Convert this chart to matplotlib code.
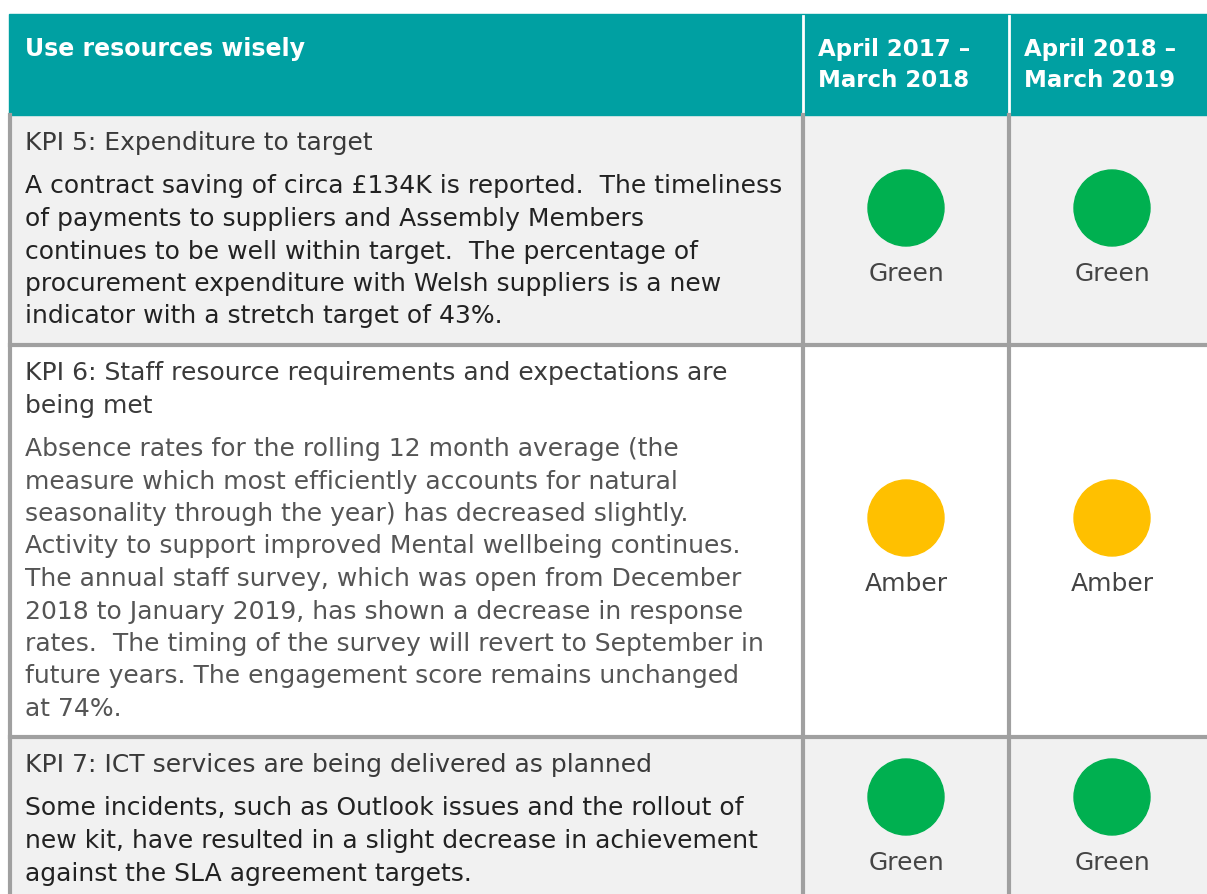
import matplotlib.pyplot as plt
from matplotlib.patches import Rectangle, Circle

# table content
header = "Use resources wisely"
periods = ["April 2017 –\nMarch 2018", "April 2018 –\nMarch 2019"]
titles = [
    ["KPI 5: Expenditure to target"],
    ["KPI 6: Staff resource requirements and expectations are",
     "being met"],
    ["KPI 7: ICT services are being delivered as planned"],
]
bodies = [
    ["A contract saving of circa £134K is reported.  The timeliness",
     "of payments to suppliers and Assembly Members",
     "continues to be well within target.  The percentage of",
     "procurement expenditure with Welsh suppliers is a new",
     "indicator with a stretch target of 43%."],
    ["Absence rates for the rolling 12 month average (the",
     "measure which most efficiently accounts for natural",
     "seasonality through the year) has decreased slightly.",
     "Activity to support improved Mental wellbeing continues.",
     "The annual staff survey, which was open from December",
     "2018 to January 2019, has shown a decrease in response",
     "rates.  The timing of the survey will revert to September in",
     "future years. The engagement score remains unchanged",
     "at 74%."],
    ["Some incidents, such as Outlook issues and the rollout of",
     "new kit, have resulted in a slight decrease in achievement",
     "against the SLA agreement targets."],
]
status_2017 = ["Green", "Amber", "Green"]
status_2018 = ["Green", "Amber", "Green"]

rag = {"Green": "#00b050", "Amber": "#ffc000"}
row_bg = ["#f1f1f1", "#ffffff", "#f1f1f1"]
body_col = ["#222222", "#555555", "#222222"]
teal = "#00a0a2"
grid = "#a0a0a0"

W, H = 1207, 894
row_top = [115, 345, 737]
row_bot = [345, 737, 894]
col_x = [10, 803, 1009, 1207]
circle_y = [208, 518, 797]
line_h = 32.5

fig = plt.figure(figsize=(W / 100, H / 100), dpi=100)
ax = fig.add_axes([0, 0, 1, 1])
ax.set_xlim(0, W)
ax.set_ylim(H, 0)
ax.axis("off")

# header band
ax.add_patch(Rectangle((9, 14), W - 9, 101, color=teal, zorder=1))
ax.text(25, 49, header, color="white", fontsize=17, fontweight="bold",
        va="center", ha="left", zorder=3)
for i, p in enumerate(periods):
    ax.text(col_x[i + 1] + 15, 65, p, color="white", fontsize=16.5,
            fontweight="bold", va="center", ha="left", linespacing=1.45,
            zorder=3)
    ax.plot([col_x[i + 1], col_x[i + 1]], [16, 113], color="white", lw=2,
            zorder=2)

for r in range(len(titles)):
    top, bot = row_top[r], row_bot[r]
    ax.add_patch(Rectangle((10, top), W - 10, bot - top, color=row_bg[r],
                           zorder=0))
    y = top + 28
    for t in titles[r]:
        ax.text(25, y, t, color="#3a3a3a", fontsize=18, va="center",
                ha="left")
        y += line_h
    y += 11
    for b in bodies[r]:
        ax.text(25, y, b, color=body_col[r], fontsize=18, va="center",
                ha="left")
        y += line_h

    # status circles
    cy = circle_y[r]
    for c, s in enumerate([status_2017[r], status_2018[r]]):
        cx = col_x[c + 1] + 103
        ax.add_patch(Circle((cx, cy), 38, color=rag[s], zorder=3))
        ax.text(cx, cy + 66, s, color="#444444", fontsize=18, ha="center",
                va="center", zorder=3)

# grid lines
for y in row_top[1:]:
    ax.plot([10, W], [y, y], color=grid, lw=3, zorder=4)
for x in col_x[:3]:
    ax.plot([x, x], [115, H], color=grid, lw=3, zorder=4)

fig.savefig("out.png", dpi=100)
